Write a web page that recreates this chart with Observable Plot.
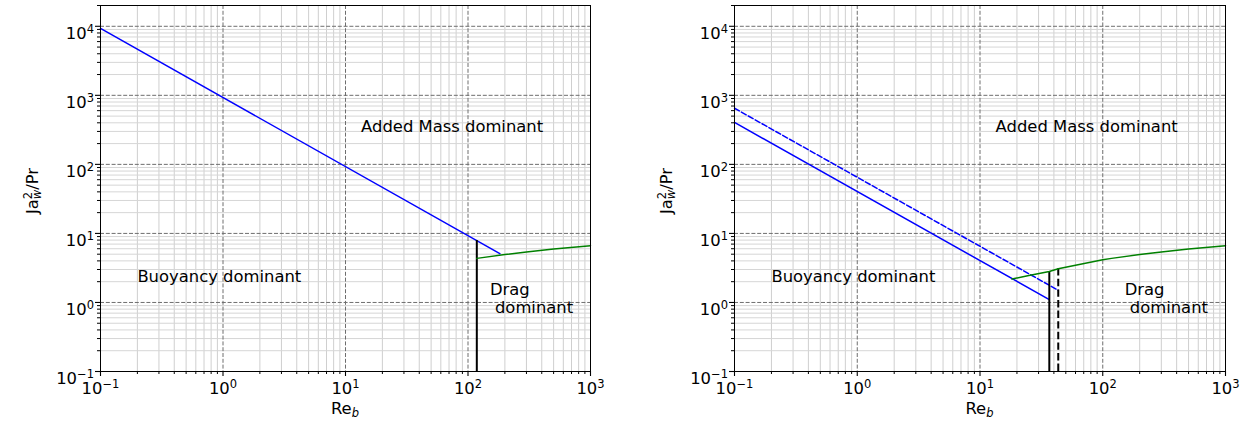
<!DOCTYPE html>
<html>
<head>
<meta charset="utf-8">
<script src="https://cdn.jsdelivr.net/npm/d3@7"></script>
<script src="https://cdn.jsdelivr.net/npm/@observablehq/plot@0.6"></script>
<style>
  html, body { margin: 0; padding: 0; background: white; }
  #wrap { display: flex; width: 1250px; height: 422px; }
  #wrap svg { display: block; }
</style>
</head>
<body>
<div id="wrap"></div>
<script>
// ---- tick values ----
const xMajor = [0.1, 1, 10, 100, 1000];
const yMajor = [0.1, 1, 10, 100, 1000, 10000];
const minorMultipliers = [2, 3, 4, 5, 6, 7, 8, 9];
const xMinor = [0.1, 1, 10, 100].flatMap(d => minorMultipliers.map(m => +(d * m).toPrecision(3)));
const yMinor = [0.1, 1, 10, 100, 1000, 10000].flatMap(d => minorMultipliers.map(m => +(d * m).toPrecision(3))).filter(v => v <= 20000);

// ---- left panel series ----
const leftBlueRe = [0.1, 182];
const leftBlueJa = [9300, 5.1];
const leftGreenRe = [118, 200, 300, 500, 1000];
const leftGreenJa = [4.35, 4.94, 5.36, 5.95, 6.64];
const leftBoundRe = [118];
const leftBoundTop = [7.9];

// ---- right panel series ----
const rightBlueRe = [0.1, 36.7];
const rightBlueJa = [405, 1.1];
const rightBlueDashRe = [0.1, 43.4];
const rightBlueDashJa = [650, 1.5];
const rightGreenRe = [18.2, 25, 36.7, 43.4, 60, 100, 118, 200, 300, 500, 1000];
const rightGreenJa = [2.18, 2.45, 2.81, 3.08, 3.47, 4.16, 4.35, 4.94, 5.36, 5.95, 6.64];
const rightBoundRe = [36.7];
const rightBoundTop = [2.81];
const rightBoundDashRe = [43.4];
const rightBoundDashTop = [3.08];

// ---- annotations ----
const annText = ["Added Mass dominant", "Buoyancy dominant", "Drag", "dominant"];
const annRe = [13.4, 0.2, 151, 166];
const annJa = [352, 2.33, 1.53, 0.83];

const FS = 16.4;   // main font size
const SS = 11.5;   // script font size

const pts = (xs, ys) => xs.map((x, i) => ({x, y: ys[i]}));
const annotations = annText.map((t, i) => ({text: t, x: annRe[i], y: annJa[i]}));
const fmt = d => "10^" + Math.round(Math.log10(d));

function panel(cfg) {
  const svg = Plot.plot({
    width: 625, height: 422,
    marginLeft: cfg.ml, marginRight: cfg.mr, marginTop: 5, marginBottom: 51,
    style: {background: "white", color: "black", overflow: "visible"},
    x: {type: "log", domain: [0.1, 1000]},
    y: {type: "log", domain: [0.1, 20000]},
    marks: [
      Plot.ruleX(xMinor, {stroke: "#cfcfcf", strokeWidth: 1}),
      Plot.ruleY(yMinor, {stroke: "#d6d6d6", strokeWidth: 1}),
      Plot.ruleX(xMajor, {stroke: "#6e6e6e", strokeWidth: 1, strokeDasharray: "4,1.8"}),
      Plot.ruleY(yMajor, {stroke: "#6e6e6e", strokeWidth: 1, strokeDasharray: "4,1.8"}),
      ...cfg.marks,
      Plot.text(annotations, {x: "x", y: "y", text: "text", textAnchor: "start", fontSize: FS, fill: "black"}),
      Plot.axisX({ticks: xMinor, tickSize: 3, tickFormat: () => "", label: null, strokeWidth: 1}),
      Plot.axisX({ticks: xMajor, tickSize: 5, tickPadding: 6, tickFormat: fmt, label: null, strokeWidth: 1.1, fontSize: FS}),
      Plot.axisY({ticks: yMinor, tickSize: 3, tickFormat: () => "", label: null, strokeWidth: 1}),
      Plot.axisY({ticks: yMajor, tickSize: 5, tickPadding: 1.5, tickFormat: fmt, label: null, strokeWidth: 1.1, fontSize: FS}),
      Plot.frame({stroke: "black", strokeWidth: 1})
    ]
  });
  const s = d3.select(svg);
  s.attr("font-family", "DejaVu Sans").attr("font-size", FS);
  // superscript exponents in tick labels
  s.selectAll("text").each(function() {
    const t = d3.select(this);
    if (t.selectAll("tspan").size() > 0) return;
    const str = t.text();
    if (!/^10\^/.test(str)) return;
    const e = str.split("^")[1].replace("-", "\u2212");
    t.text("10");
    t.attr("font-size", FS);
    t.append("tspan").attr("dy", -5.8).attr("font-size", SS).text(e);
    const isY = this.closest('g[aria-label="y-axis tick label"]');
    if (isY) t.attr("dy", 7);
  });
  // x label
  const cx = cfg.ml + (625 - cfg.ml - cfg.mr) / 2;
  const xl = s.append("text").attr("x", cx).attr("y", 414).attr("text-anchor", "middle")
    .attr("font-family", "DejaVu Sans").attr("font-size", FS).attr("fill", "black");
  xl.append("tspan").text("Re");
  xl.append("tspan").attr("font-size", SS).attr("font-style", "italic").attr("dy", 2.7).text("b");
  // y label
  const yl = s.append("text").attr("transform", `translate(${cfg.ml - 62},191) rotate(-90)`)
    .attr("text-anchor", "middle").attr("font-family", "DejaVu Sans").attr("font-size", FS).attr("fill", "black");
  yl.append("tspan").text("Ja");
  yl.append("tspan").attr("font-size", SS).attr("dy", -6).text("2");
  yl.append("tspan").attr("font-size", SS).attr("font-style", "italic").attr("dx", -7.3).attr("dy", 8.8).text("w");
  yl.append("tspan").attr("dy", -2.8).text("/Pr");
  return svg;
}

const wrap = document.getElementById("wrap");

wrap.appendChild(panel({
  ml: 100, mr: 35,
  marks: [
    Plot.line(pts(leftBlueRe, leftBlueJa), {x: "x", y: "y", stroke: "#0000ff", strokeWidth: 1.5}),
    Plot.ruleX(leftBoundRe.map((x, i) => ({x, y1: 0.1, y2: leftBoundTop[i]})), {x: "x", y1: "y1", y2: "y2", stroke: "black", strokeWidth: 2}),
    Plot.line(pts(leftGreenRe, leftGreenJa), {x: "x", y: "y", stroke: "#008000", strokeWidth: 1.5})
  ]
}));

wrap.appendChild(panel({
  ml: 109, mr: 25,
  marks: [
    Plot.line(pts(rightBlueRe, rightBlueJa), {x: "x", y: "y", stroke: "#0000ff", strokeWidth: 1.5}),
    Plot.line(pts(rightBlueDashRe, rightBlueDashJa), {x: "x", y: "y", stroke: "#0000ff", strokeWidth: 1.5, strokeDasharray: "5.5,2.4"}),
    Plot.ruleX(rightBoundRe.map((x, i) => ({x, y1: 0.1, y2: rightBoundTop[i]})), {x: "x", y1: "y1", y2: "y2", stroke: "black", strokeWidth: 2}),
    Plot.ruleX(rightBoundDashRe.map((x, i) => ({x, y1: 0.1, y2: rightBoundDashTop[i]})), {x: "x", y1: "y1", y2: "y2", stroke: "black", strokeWidth: 2, strokeDasharray: "7.4,3.2"}),
    Plot.line(pts(rightGreenRe, rightGreenJa), {x: "x", y: "y", stroke: "#008000", strokeWidth: 1.5})
  ]
}));
</script>
</body>
</html>
